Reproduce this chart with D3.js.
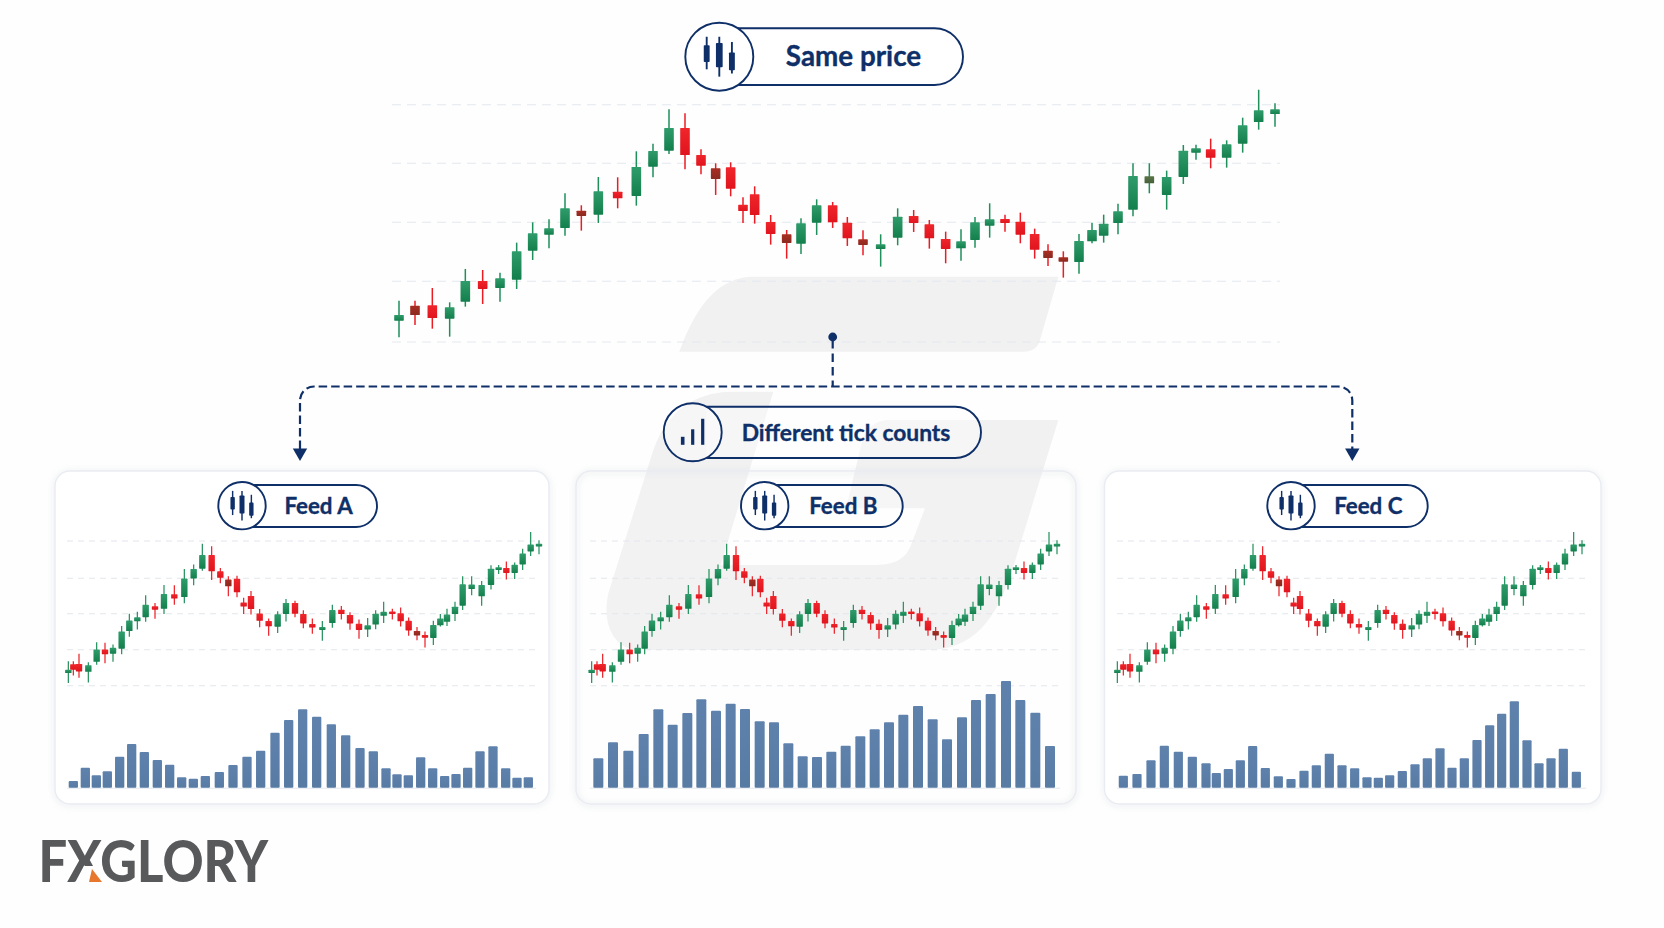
<!DOCTYPE html>
<html>
<head>
<meta charset="utf-8">
<script src="https://cdnjs.cloudflare.com/ajax/libs/d3/7.8.5/d3.min.js"></script>
<style>
html,body{margin:0;padding:0;background:#fefefe;}
svg{display:block;}
text{font-family:Lato,"Open Sans",sans-serif;}
</style>
</head>
<body>
<svg id="c" width="1664" height="928"></svg>
<script>
// ---- price data shared by every panel (arbitrary price units) ----
const candleHigh=[124,124,162,119,219,216,208,298,359,368,446,410,495,494,572,595,698,686,578,536,539,434,467,381,336,371,428,420,375,335,323,401,396,366,331,338,375,416,382,388,340,293,272,324,358,382,415,536,536,514,591,592,610,605,673,757,716];
const candleLow=[14,51,40,16,106,114,121,159,246,281,319,334,357,401,409,494,564,518,503,441,437,357,355,292,250,264,321,342,288,260,226,290,330,280,236,244,283,313,331,296,250,228,193,205,296,298,323,377,446,397,474,547,521,523,568,637,646];
const candleOpen=[64,109,110,70,121,183,162,187,274,322,342,394,382,451,438,526,574,642,561,521,524,412,443,360,323,295,358,410,358,308,279,313,378,353,309,281,306,349,369,361,324,274,254,240,302,319,357,397,476,441,495,568,578,553,595,660,684];
const candleClose=[81,81,72,104,183,159,191,272,326,341,401,378,452,431,525,573,642,561,529,489,460,393,381,324,297,356,410,359,311,291,293,376,357,311,279,302,359,368,357,322,277,252,241,303,336,355,392,498,497,495,574,581,553,593,650,695,698];
const mainMixed=[1,11,19,24,29,41,42,48];
const feedMixed=[19,41];
const gridMain=[712,536,359,182,0];
const gridFeed=[712,526.5,359,182,0];

// ---- sampling times per panel ----
const mainTime=[57,105,157,209,256,308,360,410,458,507,555,604,655,713,769,819,867,915,963,1007,1052,1089,1124,1172,1220,1263,1310,1358,1402,1449,1502,1553,1601,1648,1697,1743,1785,1829,1875,1921,1964,2004,2050,2097,2136,2171,2214,2259,2308,2360,2410,2448,2492,2540,2588,2636,2685];
const feedATime=[55,70,87,115,140,165,189,215,238,262,287,315,342,373,403,431,457,485,511,535,561,581,603,629,656,683,708,735,760,787,817,847,874,900,927,953,977,1001,1027,1052,1076,1101,1125,1150,1171,1191,1215,1238,1265,1295,1323,1346,1369,1394,1418,1442,1467];
const feedBTime=[65,81,98,127,153,179,203,224,246,272,298,327,355,387,417,444,470,498,523,547,571,590,610,637,664,689,714,740,765,793,821,850,876,902,927,953,977,1000,1024,1049,1074,1097,1121,1146,1166,1185,1209,1232,1258,1287,1314,1338,1362,1387,1412,1437,1461];
const feedCTime=[67,85,105,133,157,183,209,234,256,280,305,334,361,392,422,448,474,503,528,552,576,596,615,641,667,692,716,741,766,792,820,848,873,898,923,950,972,996,1020,1044,1070,1093,1117,1141,1162,1182,1205,1229,1257,1285,1313,1336,1360,1385,1410,1436,1461];

// ---- tick counts per feed ----
const feedATickTime=[70,106,139,172,209,245,283,322,359,395,430,466,508,549,591,632,675,716,758,800,844,887,930,970,1008,1041,1075,1112,1148,1184,1218,1253,1290,1329,1367,1401,1435];
const feedATicks=[20,60,37,49,93,131,107,83,69,31,27,35,47,68,93,111,165,203,235,213,190,157,119,109,58,40,37,91,58,35,41,60,109,124,58,30,31];
const feedBTickTime=[85,129,175,221,265,308,352,394,438,482,525,569,612,655,698,741,784,827,871,914,957,1000,1044,1088,1131,1176,1218,1262,1308,1351,1396,1440];
const feedBTicks=[88,136,111,161,235,189,224,265,231,252,236,199,196,133,94,92,108,126,154,175,196,219,245,205,145,211,263,281,320,263,225,125];
const feedCTickTime=[85,126,168,208,250,292,333,364,400,436,473,511,550,588,627,664,703,741,779,816,850,884,922,960,997,1035,1071,1108,1146,1184,1220,1258,1296,1332,1368,1405,1444];
const feedCTicks=[36,41,82,126,108,93,73,44,56,82,125,59,34,26,51,67,102,67,58,31,30,37,50,70,88,118,60,88,143,187,222,259,142,73,88,117,48];

// ---- labels ----
const titleTop="Same price";
const titleMid="Different tick counts";
const feedNames=["Feed A","Feed B","Feed C"];
const brand="FXGLORY";

const NAVY="#0e2f68", GREEN="#1f8f5b", RED="#ec1c24";
const svg=d3.select("#c");
const line=d3.line().x(d=>d[0]).y(d=>d[1]);

// watermark
const wm=d3.path();
const wx=v=>590+v/3, wy=v=>260+v/3;
wm.moveTo(wx(268),wy(275));
wm.bezierCurveTo(wx(320),wy(130),wx(390),wy(50),wx(490),wy(50));
wm.lineTo(wx(1405),wy(50));wm.lineTo(wx(1350),wy(240));
wm.quadraticCurveTo(wx(1340),wy(275),wx(1300),wy(275));wm.closePath();
wm.moveTo(wx(550),wy(395));wm.lineTo(wx(430),wy(395));
wm.bezierCurveTo(wx(340),wy(395),wx(240),wy(430),wx(190),wy(570));
wm.lineTo(wx(55),wy(1000));
wm.bezierCurveTo(wx(35),wy(1090),wx(70),wy(1170),wx(150),wy(1170));
wm.lineTo(wx(1010),wy(1170));
wm.bezierCurveTo(wx(1150),wy(1170),wx(1220),wy(1080),wx(1270),wy(920));
wm.lineTo(wx(1405),wy(480));wm.lineTo(wx(900),wy(480));
wm.quadraticCurveTo(wx(835),wy(480),wx(815),wy(550));
wm.lineTo(wx(768),wy(745));wm.lineTo(wx(1005),wy(745));wm.lineTo(wx(965),wy(850));
wm.quadraticCurveTo(wx(945),wy(915),wx(860),wy(915));
wm.lineTo(wx(392),wy(915));wm.closePath();
svg.append("path").attr("d",wm.toString()).attr("fill","#f1f1f2");

// gradients and filters
const defs=svg.append("defs");
defs.append("filter").attr("id","soft").attr("x","-5%").attr("y","-5%").attr("width","110%").attr("height","110%")
  .append("feGaussianBlur").attr("stdDeviation",3);
function grad(id,a,b){
  const g=defs.append("linearGradient").attr("id",id).attr("x1",0).attr("x2",0).attr("y1",0).attr("y2",1);
  g.append("stop").attr("offset",0).attr("stop-color",a);
  g.append("stop").attr("offset",1).attr("stop-color",b);
}
grad("barFill","#5f82ad","#587ba4");
grad("greenFill","#2f9c6b","#137f4c");
grad("redFill","#f0262c","#e0141d");
grad("mixRed","#a92d22","#8a2a20");
grad("mixGreen","#5a7548","#46603a");

const panels=[
 {x0:50,card:[55,549],gridX:[67,536],time:feedATime,tt:feedATickTime,ticks:feedATicks,barW:9.3,cx:242,right:377,tc:318.5,name:feedNames[0]},
 {x0:570,card:[576,1076],gridX:[590,1060],time:feedBTime,tt:feedBTickTime,ticks:feedBTicks,barW:10,cx:764.7,right:902.7,tc:843.3,name:feedNames[1]},
 {x0:1095,card:[1104.5,1601],gridX:[1117,1586],time:feedCTime,tt:feedCTickTime,ticks:feedCTicks,barW:9.2,cx:1291,right:1427.7,tc:1368.3,name:feedNames[2]}
];
panels.forEach(p=>{
  const w=p.card[1]-p.card[0];
  svg.append("rect").attr("x",p.card[0]).attr("y",472).attr("width",w).attr("height",333).attr("rx",15)
    .attr("fill","none").attr("stroke","#c9d0da").attr("stroke-opacity",.45).attr("stroke-width",3).attr("filter","url(#soft)");
  svg.append("rect").attr("x",p.card[0]).attr("y",471).attr("width",w).attr("height",333).attr("rx",15)
    .attr("fill","#fff").attr("fill-opacity",p.name==="Feed B"?0.12:1).attr("stroke","#e9ecf1").attr("stroke-width",1.4);
});

function drawGrid(g,vals,y,x1,x2,dash,col){
  g.selectAll("line.grid").data(vals).join("line").attr("class","grid")
   .attr("x1",x1).attr("x2",x2).attr("y1",d=>y(d)).attr("y2",d=>y(d))
   .attr("stroke",col).attr("stroke-width",1.1).attr("stroke-dasharray",dash);
}
function drawCandles(g,time,x,y,bw,ww,mixed){
  const data=time.map((t,i)=>({t,i,h:candleHigh[i],l:candleLow[i],o:candleOpen[i],c:candleClose[i]}));
  const up=d=>d.c>=d.o;
  const fill=d=>mixed.includes(d.i)?(up(d)?"url(#mixGreen)":"url(#mixRed)"):(up(d)?"url(#greenFill)":"url(#redFill)");
  const s=g.selectAll("g.c").data(data).join("g").attr("class","c");
  s.append("line").attr("x1",d=>x(d.t)).attr("x2",d=>x(d.t)).attr("y1",d=>y(d.h)).attr("y2",d=>y(d.l))
    .attr("stroke",d=>up(d)?GREEN:RED).attr("stroke-width",ww);
  s.append("rect").attr("x",d=>x(d.t)-bw/2).attr("width",bw)
    .attr("y",d=>y(Math.max(d.o,d.c))).attr("height",d=>Math.max(1.5,y(Math.min(d.o,d.c))-y(Math.max(d.o,d.c))))
    .attr("rx",.6).attr("fill",fill);
}

// main chart
const mainX=d3.scaleLinear().domain([0,3000]).range([380,1380]);
const mainY=d3.scaleLinear().domain([0,182,359,536,712]).range([342,281.3,222.3,163.3,104.7]);
const gm=svg.append("g");
drawGrid(gm,gridMain,mainY,392,1280,"9 6","#e3e7ee");
drawCandles(gm,mainTime,mainX,mainY,9.6,1.5,mainMixed);

// feed charts
const feedY=d3.scaleLinear().domain([0,182,359,536,712]).range([685.7,649.7,613.7,576.3,541]);
const volY=d3.scaleLinear().domain([0,320]).range([787.7,681]);
panels.forEach(p=>{
  const x=d3.scaleLinear().domain([0,1530]).range([p.x0,p.x0+510]);
  const g=svg.append("g");
  drawGrid(g,gridFeed,feedY,p.gridX[0],p.gridX[1],"6 5","#e3e6ec");
  drawCandles(g,p.time,x,feedY,6.4,1.2,feedMixed);
  g.append("line").attr("x1",p.gridX[0]).attr("x2",p.gridX[1]).attr("y1",volY(0)+.5).attr("y2",volY(0)+.5)
   .attr("stroke","#e3e7ee").attr("stroke-width",1);
  g.selectAll("rect.v").data(p.ticks).join("rect").attr("class","v")
   .attr("x",(d,i)=>x(p.tt[i])-p.barW/2).attr("width",p.barW)
   .attr("y",d=>volY(d)).attr("height",d=>volY(0)-volY(d)).attr("rx",1).attr("fill","url(#barFill)");
});

// connector
const conn=svg.append("g").attr("fill","none").attr("stroke",NAVY).attr("stroke-width",2.2);
const cY=386.5, rX=1352.3, lX=300, mX=832.7, r=14, tipB=449;
const hp=d3.path();
hp.moveTo(lX,tipB);hp.lineTo(lX,cY+r);hp.arcTo(lX,cY,lX+r,cY,r);hp.lineTo(rX-r,cY);hp.arcTo(rX,cY,rX,cY+r,r);hp.lineTo(rX,tipB);
conn.append("path").attr("d",hp.toString()).attr("stroke-dasharray","8.5 4");
conn.append("path").attr("d",line([[mX,340],[mX,cY]])).attr("stroke-dasharray","8.5 5");
svg.append("circle").attr("cx",mX).attr("cy",337).attr("r",4.4).attr("fill",NAVY);
[lX,rX].forEach(x=>svg.append("path").attr("d",line([[x-7.2,448.5],[x+7.2,448.5],[x,461]])+"Z").attr("fill",NAVY));

// pills
function candleIcon(g,cx,cy,s){
  const items=[[-12,-19,12,-11,5,2.8],[0,-19,19,-13,10,3.2],[12,-14,16,-4,13,2.8]];
  items.forEach(a=>{
    g.append("line").attr("x1",cx+a[0]*s).attr("x2",cx+a[0]*s).attr("y1",cy+a[1]*s).attr("y2",cy+a[2]*s)
     .attr("stroke",NAVY).attr("stroke-width",1.6*s+.2);
    g.append("rect").attr("x",cx+(a[0]-a[5])*s).attr("width",a[5]*2*s).attr("y",cy+a[3]*s).attr("height",(a[4]-a[3])*s)
     .attr("fill",NAVY).attr("rx",.8);
  });
}
function barIcon(g,cx,cy){
  [[-10,4.5,12.5,3.6],[0,-3,12.5,3.2],[10,-13.5,12.5,3.2]].forEach(a=>{
    g.append("rect").attr("x",cx+a[0]-a[3]/2).attr("width",a[3]).attr("y",cy+a[1]).attr("height",a[2]-a[1]).attr("fill",NAVY);
  });
}
function pill(o){
  const g=svg.append("g");
  const rr=(o.bottom-o.top)/2;
  const dx=Math.sqrt(o.r*o.r-(o.cy-o.top)*(o.cy-o.top));
  const dxB=Math.sqrt(o.r*o.r-(o.bottom-o.cy)*(o.bottom-o.cy));
  const mid=(o.top+o.bottom)/2;
  const body=d3.path();
  body.moveTo(o.cx+dx,o.top);body.lineTo(o.right-rr,o.top);
  body.arc(o.right-rr,mid,rr,-Math.PI/2,Math.PI/2);
  body.lineTo(o.cx+dxB,o.bottom);
  g.append("path").attr("d",body.toString()).attr("fill","#fff").attr("fill-opacity",o.fo).attr("stroke",NAVY).attr("stroke-width",1.9);
  g.append("circle").attr("cx",o.cx).attr("cy",o.cy).attr("r",o.r).attr("fill","#fff").attr("fill-opacity",o.fo).attr("stroke",NAVY).attr("stroke-width",1.9);
  if(o.icon==="bar") barIcon(g,o.cx,o.cy); else candleIcon(g,o.cx,o.cy,o.s);
  g.append("text").attr("x",o.tc).attr("y",o.base).attr("text-anchor","middle").attr("font-weight",700)
    .attr("font-size",o.fs).attr("fill",NAVY).attr("stroke",NAVY).attr("stroke-width",.35).text(o.text);
}
pill({cx:719.3,cy:56.7,r:34,top:28.3,bottom:85,right:963,tc:853.5,base:66,fs:27.8,text:titleTop,s:1.05,fo:1});
pill({cx:692.7,cy:432.3,r:29,top:406.7,bottom:458,right:981,tc:846,base:441,fs:22.8,text:titleMid,icon:"bar",fo:.35});
panels.forEach(p=>pill({cx:p.cx,cy:505.7,r:23.7,top:485,bottom:527,right:p.right,tc:p.tc,base:514,fs:22.3,text:p.name,s:.78,fo:p.name==="Feed B"?.3:1}));

// brand
svg.append("text").attr("x",38.5).attr("y",881.7).attr("font-size",58).attr("font-weight",900)
  .attr("fill","#58595b").attr("textLength",229.5).attr("lengthAdjust","spacingAndGlyphs").text(brand);
svg.append("path").attr("d",line([[84,866],[102,866],[105,882],[82,882]])+"Z").attr("fill","#fefefe");
svg.append("path").attr("d",line([[92,869],[102,882],[89,882]])+"Z").attr("fill","#e8772e");
</script>
</body>
</html>
